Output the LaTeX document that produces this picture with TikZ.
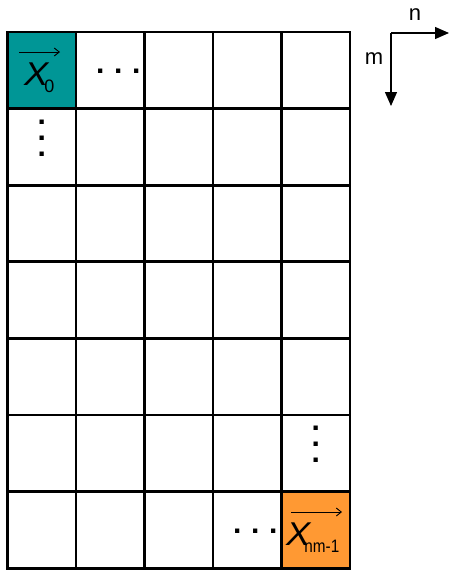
\documentclass[tikz,border=0pt]{standalone}
\usepackage{fontspec}
\setmainfont{Liberation Sans}
\usetikzlibrary{arrows.meta, positioning}

% italic X with a subscript (#2 = kern before the subscript)
\newcommand{\vecx}[2]{\scalebox{1.1}[1]{\fontsize{33}{33}\selectfont\itshape X}\hspace{#2}\raisebox{-7pt}{\fontsize{18}{18}\selectfont #1}}

\begin{document}
\begin{tikzpicture}[
        x=1pt, y=-1pt,
        cell/.style={draw, line width=2.8pt, minimum width=68.5pt, minimum height=76.6pt, inner sep=0pt},
        vlabel/.style={anchor=base west, inner sep=0pt},
        vecarrow/.style={line width=0.9pt, -{Straight Barb[length=5pt, width=8pt]}},
        dot/.style={font=\bfseries\fontsize{30}{30}\selectfont, text height=4pt, text depth=0pt, inner sep=0pt},
        axis/.style={line width=1.3pt, -{Triangle[length=14pt, width=12pt]}},
        lbl/.style={font=\fontsize{22}{24}\selectfont, inner sep=0pt}
    ]
        \useasboundingbox (0,0) rectangle (450,570);

        % 5 x 7 grid of cells
        \foreach \i in {0,...,4}
            \foreach \j in {0,...,6}
                \node[cell] (c-\i-\j) at ({7.5+34.25+68.5*\i}, {32+38.3+76.6*\j}) {};

        % first element
        \node[cell, fill={rgb,255:red,0;green,150;blue,150}] (x0) at (c-0-0) {};
        \node[vlabel] (x0-lbl) at (24,85) {\vecx{0}{-4pt}};
        \coordinate (x0-a) at (19,52);
        \coordinate (x0-b) at (60,52);
        \draw[vecarrow] (x0-a) -- (x0-b);

        % last element
        \node[cell, fill={rgb,255:red,255;green,153;blue,51}] (xl) at (c-4-6) {};
        \node[vlabel] (xl-lbl) at (286,545) {\vecx{\scalebox{0.85}[1]{nm-1}}{-6pt}};
        \coordinate (xl-a) at (291,512);
        \coordinate (xl-b) at (342,512);
        \draw[vecarrow] (xl-a) -- (xl-b);

        % dots
        \foreach \k in {0,1,2} {
            \node[dot] (d1-\k) at ([xshift={-10pt+18pt*\k}, yshift=-1pt]c-1-0.center) {.};
            \node[dot] (d2-\k) at ([yshift={-15.5pt-16pt*\k}]c-0-1.north) {.};
            \node[dot] (d3-\k) at ([yshift={-15pt-16pt*\k}]c-4-5.north) {.};
            \node[dot] (d4-\k) at ([xshift={-10pt+18pt*\k}, yshift=-2pt]c-3-6.center) {.};
        }

        % axes
        \coordinate (o) at (391,33);
        \coordinate (nend) at (449,33);
        \coordinate (mend) at (391,106);
        \draw[axis] (o) -- (nend);
        \draw[axis] (o) -- (mend);
        \node[lbl] (n) at (415,15) {n};
        \node[lbl] (m) at (374,59) {m};
    \end{tikzpicture}
\end{document}
